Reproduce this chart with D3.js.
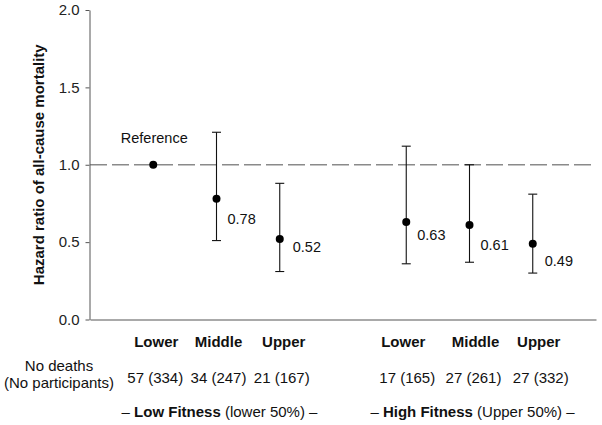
<!DOCTYPE html>
<html>
<head>
<meta charset="utf-8">
<script src="https://cdn.jsdelivr.net/npm/d3@7"></script>
<style>
  html, body { margin: 0; padding: 0; background: #fff; }
  svg { display: block; font-family: Arial, "Liberation Sans", sans-serif; }
</style>
</head>
<body>
<svg id="chart" width="602" height="425"></svg>
<script>
// ---- data ----
const categories = ["Lower", "Middle", "Upper", "Lower", "Middle", "Upper"];
const positions = [1, 2, 3, 5, 6, 7];
const hazardRatio = [1.00, 0.78, 0.52, 0.63, 0.61, 0.49];
const ciLower = [null, 0.51, 0.31, 0.36, 0.37, 0.30];
const ciUpper = [null, 1.21, 0.88, 1.12, 1.00, 0.81];
const deaths = [57, 34, 21, 17, 27, 27];
const participants = [334, 247, 167, 165, 261, 332];
const yTicks = [0, 0.5, 1.0, 1.5, 2.0];
const groupNames = [
  { pre: "\u2013 ", bold: "Low Fitness", post: " (lower 50%) \u2013", center: 2 },
  { pre: "\u2013 ", bold: "High Fitness", post: " (Upper 50%) \u2013", center: 6 }
];
const referenceValue = 1.0;

// ---- layout ----
const svg = d3.select("#chart");
const x = d3.scaleLinear().domain([0, 8]).range([90, 596]);
const y = d3.scaleLinear().domain([0, 2]).range([319.5, 10]);
const axisColor = "#555";

// value label offsets (px) as placed in the original
const labelDy = [0, 20, 8, 13, 20, 17];
const labelDx = [0, 11, 13, 11, 11, 12];
const catDx = [3, 2, 4, -3, 6, 6];
const countDx = [2, 2, 2, 1, 4, 8];

// reference dashed line
svg.append("line")
  .attr("x1", x(0)).attr("x2", x(8))
  .attr("y1", y(referenceValue)).attr("y2", y(referenceValue))
  .attr("stroke", "#8a8a8a").attr("stroke-width", 1.5)
  .attr("stroke-dasharray", "17,5");

// y axis
const yAxis = d3.axisLeft(y).tickValues(yTicks).tickFormat(d3.format(".1f"))
  .tickSizeInner(4).tickSizeOuter(0).tickPadding(6);
const gy = svg.append("g").attr("transform", `translate(${x(0) - 0.5},0)`).call(yAxis);
gy.select(".domain").attr("stroke", axisColor);
gy.selectAll(".tick line").attr("stroke", axisColor);
gy.selectAll(".tick text").attr("font-size", 15).attr("fill", "#222")
  .attr("font-family", "Arial, 'Liberation Sans', sans-serif");

// x axis (line only)
const xAxis = d3.axisBottom(x).tickValues([]).tickSizeOuter(0);
const gx = svg.append("g").attr("transform", `translate(0,${y(0)})`).call(xAxis);
gx.select(".domain").attr("stroke", axisColor);

// y-axis title
svg.append("text")
  .attr("transform", `translate(38,${(y(0) + y(2)) / 2}) rotate(-90)`)
  .attr("text-anchor", "middle").attr("dominant-baseline", "central")
  .attr("font-size", 15).attr("font-weight", "bold").attr("fill", "#111")
  .text("Hazard ratio of all-cause mortality");

const idx = d3.range(categories.length);

// error bars
const eb = svg.append("g").attr("stroke", "#111").attr("stroke-width", 1.1);
idx.filter(i => ciLower[i] != null).forEach(i => {
  const cx = x(positions[i]);
  eb.append("line").attr("x1", cx).attr("x2", cx)
    .attr("y1", y(ciLower[i])).attr("y2", y(ciUpper[i]));
  [ciLower[i], ciUpper[i]].forEach(v => {
    eb.append("line").attr("x1", cx - 4.5).attr("x2", cx + 4.5)
      .attr("y1", y(v)).attr("y2", y(v));
  });
});

// points
svg.append("g").selectAll("circle").data(idx).join("circle")
  .attr("cx", i => x(positions[i])).attr("cy", i => y(hazardRatio[i]))
  .attr("r", 4).attr("fill", "#000");

// value labels
svg.append("g").selectAll("text").data(idx.filter(i => i > 0)).join("text")
  .attr("x", i => x(positions[i]) + labelDx[i])
  .attr("y", i => y(hazardRatio[i]) + labelDy[i])
  .attr("dominant-baseline", "central")
  .attr("font-size", 14.5).attr("fill", "#111")
  .text(i => d3.format(".2f")(hazardRatio[i]));

// "Reference" label
svg.append("text")
  .attr("x", x(positions[0]) + 1).attr("y", y(referenceValue) - 27)
  .attr("text-anchor", "middle").attr("dominant-baseline", "central")
  .attr("font-size", 14.5).attr("fill", "#111")
  .text("Reference");

// category labels
svg.append("g").selectAll("text").data(idx).join("text")
  .attr("x", i => x(positions[i]) + catDx[i]).attr("y", 341)
  .attr("text-anchor", "middle").attr("dominant-baseline", "central")
  .attr("font-size", 15).attr("font-weight", "bold").attr("fill", "#111")
  .text(i => categories[i]);

// counts
svg.append("g").selectAll("text").data(idx).join("text")
  .attr("x", i => x(positions[i]) + countDx[i]).attr("y", 377)
  .attr("text-anchor", "middle").attr("dominant-baseline", "central")
  .attr("font-size", 15).attr("fill", "#111")
  .text(i => `${deaths[i]} (${participants[i]})`);

// row header
const hdr = svg.append("text").attr("text-anchor", "middle")
  .attr("font-size", 15).attr("fill", "#111");
hdr.append("tspan").attr("x", 59).attr("y", 371).text("No deaths");
hdr.append("tspan").attr("x", 59).attr("y", 388).text("(No participants)");

// group labels
groupNames.forEach(g => {
  const t = svg.append("text")
    .attr("x", x(g.center) + 3).attr("y", 411)
    .attr("text-anchor", "middle").attr("dominant-baseline", "central")
    .attr("font-size", 15).attr("fill", "#111");
  t.append("tspan").text(g.pre);
  t.append("tspan").attr("font-weight", "bold").text(g.bold);
  t.append("tspan").text(g.post);
});
</script>
</body>
</html>
